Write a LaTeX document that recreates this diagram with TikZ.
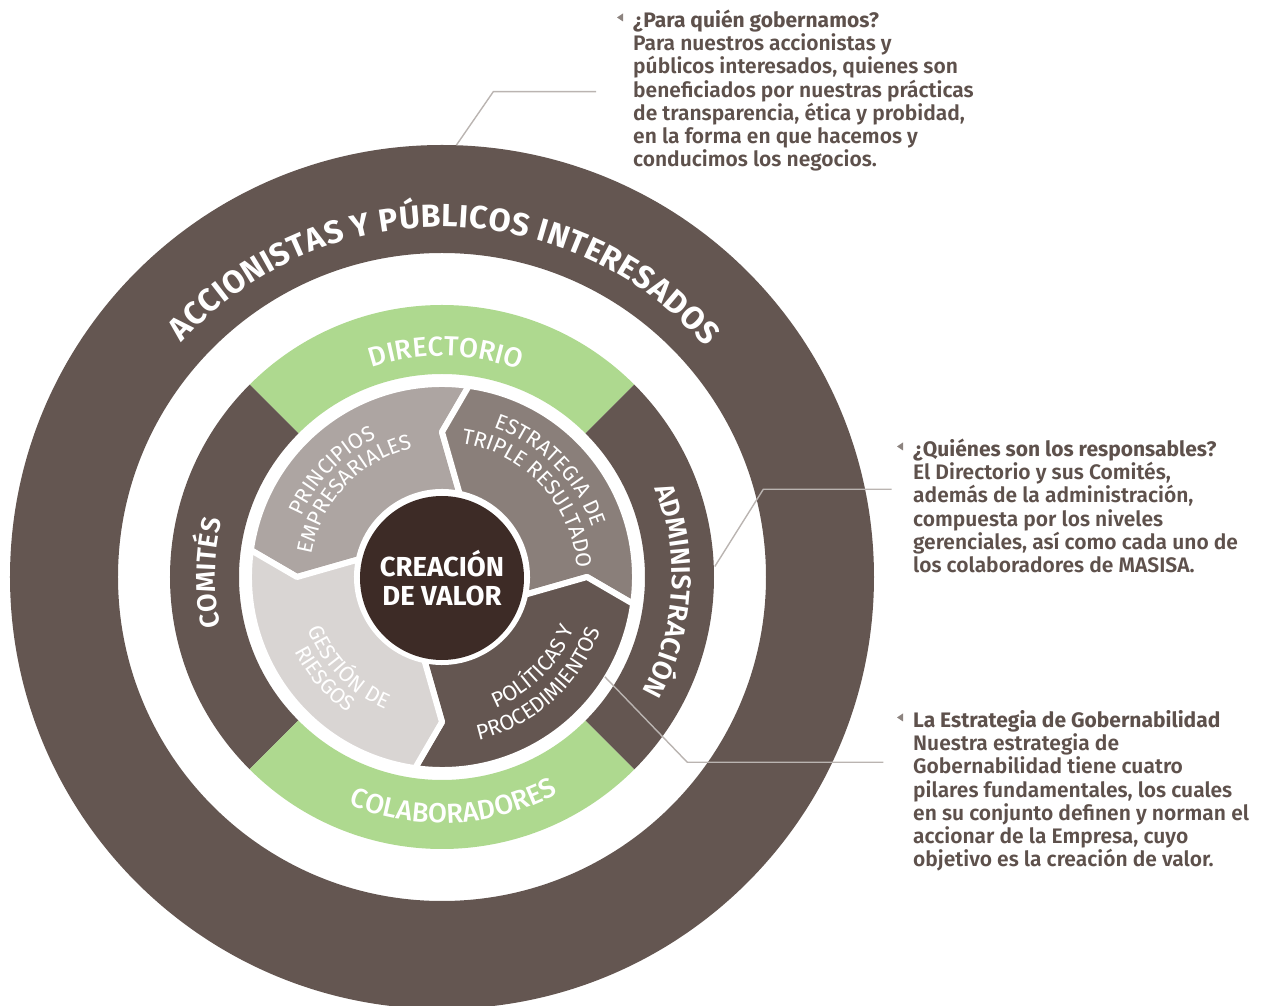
\documentclass[tikz,border=0pt]{standalone}
\usepackage{fontspec}
\setmainfont{Fira Sans}
\newfontfamily\firalight{Fira Sans Light}
\newfontfamily\firamedium{Fira Sans Medium}
\newfontfamily\firasemi{Fira Sans SemiBold}
\usetikzlibrary{decorations.text}

\definecolor{ringbrown}{HTML}{645651}
\definecolor{leafgreen}{HTML}{AED98F}
\definecolor{segpale}{HTML}{D9D5D3}
\definecolor{segtaupe}{HTML}{ADA5A2}
\definecolor{segstone}{HTML}{8A7F7A}
\definecolor{coredark}{HTML}{3D2B26}
\definecolor{notetext}{HTML}{5E514C}
\definecolor{leadgray}{HTML}{BAB4B1}
\definecolor{markgray}{HTML}{8C837F}

\newcommand\accfont{\bfseries\fontsize{32}{34}\selectfont}
\newcommand\ringbold{\firasemi\fontsize{27}{30}\selectfont}
\newcommand\ringmedium{\firamedium\fontsize{27.5}{30}\selectfont}
\newcommand\pillarfont{\rmfamily\fontsize{21.5}{24}\selectfont}
\newcommand\notefont{\firasemi\fontsize{21}{23.2}\selectfont\lineskiplimit=-100pt\relax}

\tikzset{
  arclabel/.style={decorate, decoration={text along path, text align=center, text color=white, text={#1}}},
  arcfit/.style={decorate, decoration={text along path, text align={fit to path}, text color=white, text={#1}}},
  pillar/.style={fill=#1, draw=white, line width=6pt, line join=round},
  note/.style={anchor=base west, inner sep=0pt, text=notetext, font=\notefont},
  notemark/.style={fill=markgray},
  leader/.style={draw=leadgray, line width=1.4pt},
}

\begin{document}
\begin{tikzpicture}[x=1pt,y=1pt]
\useasboundingbox (-442,-429) rectangle (825,577);

% outer ring
\fill[ringbrown, even odd rule] (0,0) circle (432) (0,0) circle (324);

% middle ring
\foreach \a/\c in {45/leafgreen,135/ringbrown,225/leafgreen,315/ringbrown}{
    \fill[\c] (\a:272) arc[start angle=\a, end angle=\a+90, radius=272] -- ({\a+90}:203) arc[start angle=\a+90, end angle=\a, radius=203] -- cycle;
}

% four pillars
\foreach \a/\c in {180/segtaupe,90/segstone,0/ringbrown,-90/segpale}{
    \draw[pillar=\c] ({\a-8}:193) arc[start angle=\a-8, end angle=\a-98, radius=193] -- ({\a-90}:145) -- ({\a-102}:85) arc[start angle=\a-102, end angle=\a-12, radius=85] -- (\a:145) -- cycle;
}

\node[circle, fill=coredark, minimum size=164pt, inner sep=0pt, text=white, align=center, font=\bfseries\fontsize{27.5}{29}\selectfont] (core) at (0,-1) {CREACIÓN\\DE VALOR};

% ring labels
\path[arcfit={|\accfont|ACCIONISTAS Y PÚBLICOS INTERESADOS}] (138:350) arc[start angle=138, end angle=41, radius=350];
\path[arclabel={|\ringmedium|DIRECTORIO}] (130:221) arc[start angle=130, end angle=48, radius=221];
\path[arclabel={|\ringmedium|COLABORADORES}] (233:246) arc[start angle=233, end angle=313, radius=246];
\path[arclabel={|\ringbold|COMITÉS}] (209:227) arc[start angle=209, end angle=149, radius=227];
\path[arclabel={|\ringbold|ADMINISTRACIÓN}] (41.5:230) arc[start angle=41.5, end angle=-48.5, radius=230];

% pillar labels
\path[arclabel={|\pillarfont|PRINCIPIOS}] (181:153) arc[start angle=181, end angle=91, radius=153];
\path[arclabel={|\pillarfont|EMPRESARIALES}] (186.5:132) arc[start angle=186.5, end angle=86.5, radius=132];
\path[arclabel={|\pillarfont|ESTRATEGIA DE}] (89.7:158) arc[start angle=89.7, end angle=-0.3, radius=158];
\path[arclabel={|\pillarfont|TRIPLE RESULTADO}] (92.7:135) arc[start angle=92.7, end angle=-7.3, radius=135];
\path[arclabel={|\pillarfont|POLÍTICAS Y}] (-84.5:142) arc[start angle=-84.5, end angle=-4.5, radius=142];
\path[arclabel={|\pillarfont|PROCEDIMIENTOS}] (-93:167) arc[start angle=-93, end angle=-3, radius=167];
\path[arclabel={|\pillarfont|GESTIÓN DE}] (184:144) arc[start angle=184, end angle=264, radius=144];
\path[arclabel={|\pillarfont|RIESGOS}] (181:165) arc[start angle=181, end angle=261, radius=165];

% callouts
\node[note] (whom) at (191,549.5) {\parbox[t]{360pt}{%
    {\rmfamily\bfseries ¿Para quién gobernamos?}\\
    Para nuestros accionistas y\\
    públicos interesados, quienes son\\
    beneficiados por nuestras prácticas\\
    de transparencia, ética y probidad,\\
    en la forma en que hacemos y\\
    conducimos los negocios.}};
\node[note] (who) at (471,120.5) {\parbox[t]{350pt}{%
    {\rmfamily\bfseries ¿Quiénes son los responsables?}\\
    El Directorio y sus Comités,\\
    además de la administración,\\
    compuesta por los niveles\\
    gerenciales, así como cada uno de\\
    los colaboradores de MASISA.}};
\node[note] (how) at (471,-150.5) {\parbox[t]{350pt}{%
    {\rmfamily\bfseries La Estrategia de Gobernabilidad}\\
    Nuestra estrategia de\\
    Gobernabilidad tiene cuatro\\
    pilares fundamentales, los cuales\\
    en su conjunto definen y norman el\\
    accionar de la Empresa, cuyo\\
    objetivo es la creación de valor.}};

\foreach \n in {whom,who,how}{
    \fill[notemark] ([shift={(-16,10)}]\n.base west) -- ++(6,4) -- ++(0,-8) -- cycle;
}

% leaders
\coordinate (whomfoot) at ([shift={(-37,-64.2)}]whom.base west);
\coordinate (whofoot) at ([shift={(-21.3,-32.8)}]who.base west);
\coordinate (howfoot) at ([shift={(-29.7,-34.8)}]how.base west);
\coordinate (outertop) at (88.1:432);
\coordinate (ringright) at (2.2:273);
\coordinate (pillaredge) at (-31.5:191);
\draw[leader] (whomfoot) -- ++(-102.7,0) -- (outertop);
\draw[leader] (whofoot) -- ++(-128.4,0) -- (ringright);
\draw[leader] (howfoot) -- ++(-196,0) -- (pillaredge);
\end{tikzpicture}
\end{document}
